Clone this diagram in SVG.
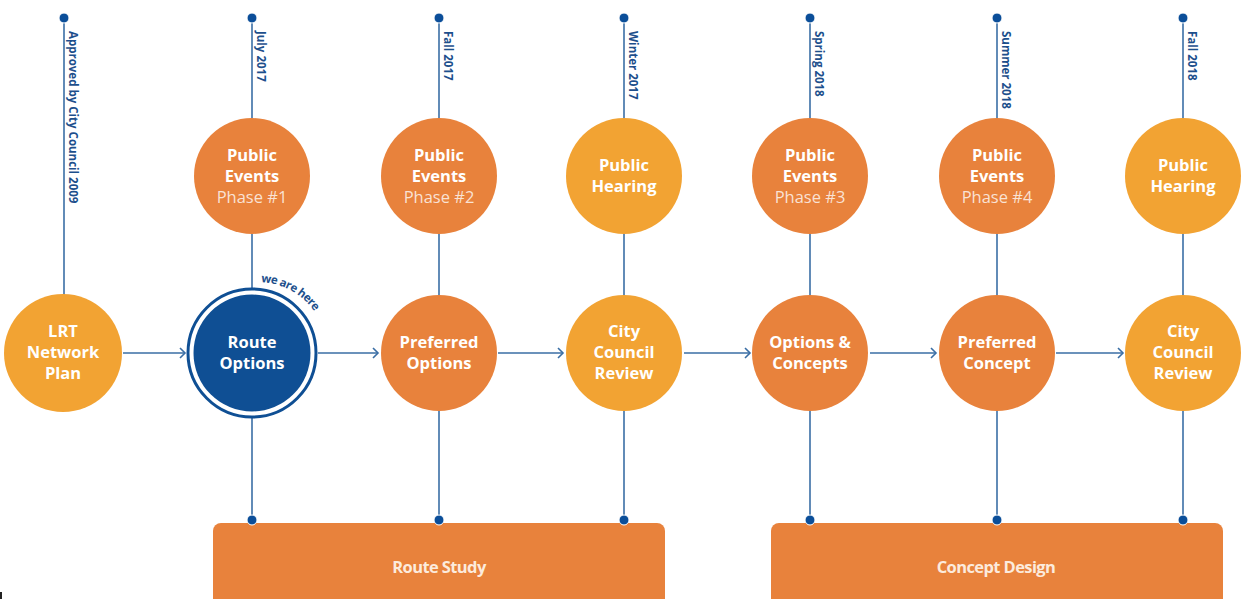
<svg xmlns="http://www.w3.org/2000/svg" width="1241" height="599" viewBox="0 0 1241 599">
<style>
.ln{stroke:#3A6EA5;stroke-width:1.6;fill:none}
.dot{fill:#0B4E99;stroke:#fff;stroke-width:1}
.dk{fill:#E8823C}
.am{fill:#F2A333}
.t{font-family:"Open Sans","Liberation Sans",sans-serif;font-weight:700;font-size:16.5px;fill:#fff;text-anchor:middle}
.ph{font-family:"Open Sans","Liberation Sans",sans-serif;font-weight:400;font-size:16.5px;fill:#fff;fill-opacity:0.78;text-anchor:middle}
.lab{font-family:"Open Sans","Liberation Sans",sans-serif;font-weight:700;font-size:11.5px;fill:#1D4F8C}
.bar{font-family:"Open Sans","Liberation Sans",sans-serif;font-weight:700;font-size:16.5px;fill:#FCEBDD;text-anchor:middle;letter-spacing:-0.6px}
</style>
<defs>
<marker id="ah" markerWidth="10" markerHeight="12" refX="8" refY="6" orient="auto" markerUnits="userSpaceOnUse">
<path d="M3,1 L8,6 L3,11" fill="none" stroke="#3A6EA5" stroke-width="1.6"/>
</marker>
<path id="arc" d="M 246 283 A 70 70 0 0 1 324 330"/>
</defs>
<rect width="1241" height="599" fill="#fff"/>

<g id="connectors">
<line class="ln" x1="64" y1="18" x2="64" y2="295"/>
<line class="ln" x1="252" y1="18" x2="252" y2="118"/>
<line class="ln" x1="252" y1="234" x2="252" y2="289"/>
<line class="ln" x1="252" y1="417" x2="252" y2="520"/>
<line class="ln" x1="439" y1="18" x2="439" y2="118"/>
<line class="ln" x1="439" y1="234" x2="439" y2="295"/>
<line class="ln" x1="439" y1="411" x2="439" y2="520"/>
<line class="ln" x1="624" y1="18" x2="624" y2="118"/>
<line class="ln" x1="624" y1="234" x2="624" y2="295"/>
<line class="ln" x1="624" y1="411" x2="624" y2="520"/>
<line class="ln" x1="810" y1="18" x2="810" y2="118"/>
<line class="ln" x1="810" y1="234" x2="810" y2="295"/>
<line class="ln" x1="810" y1="411" x2="810" y2="520"/>
<line class="ln" x1="997" y1="18" x2="997" y2="118"/>
<line class="ln" x1="997" y1="234" x2="997" y2="295"/>
<line class="ln" x1="997" y1="411" x2="997" y2="520"/>
<line class="ln" x1="1183" y1="18" x2="1183" y2="118"/>
<line class="ln" x1="1183" y1="234" x2="1183" y2="295"/>
<line class="ln" x1="1183" y1="411" x2="1183" y2="520"/>
<line class="ln" x1="123" y1="353" x2="185" y2="353" marker-end="url(#ah)"/>
<line class="ln" x1="318" y1="353" x2="378" y2="353" marker-end="url(#ah)"/>
<line class="ln" x1="498" y1="353" x2="563" y2="353" marker-end="url(#ah)"/>
<line class="ln" x1="684" y1="353" x2="750" y2="353" marker-end="url(#ah)"/>
<line class="ln" x1="870" y1="353" x2="936" y2="353" marker-end="url(#ah)"/>
<line class="ln" x1="1056" y1="353" x2="1123" y2="353" marker-end="url(#ah)"/>
</g>

<g id="top-dots">
<circle class="dot" cx="64" cy="18" r="5"/>
<circle class="dot" cx="252" cy="18" r="5"/>
<circle class="dot" cx="439" cy="18" r="5"/>
<circle class="dot" cx="624" cy="18" r="5"/>
<circle class="dot" cx="810" cy="18" r="5"/>
<circle class="dot" cx="997" cy="18" r="5"/>
<circle class="dot" cx="1183" cy="18" r="5"/>
</g>

<g id="date-labels">
<text class="lab" transform="translate(69,31) rotate(90)">Approved by City Council 2009</text>
<text class="lab" transform="translate(257,31) rotate(90)">July 2017</text>
<text class="lab" transform="translate(444,31) rotate(90)">Fall 2017</text>
<text class="lab" transform="translate(629,31) rotate(90)">Winter 2017</text>
<text class="lab" transform="translate(815,31) rotate(90)">Spring 2018</text>
<text class="lab" transform="translate(1002,31) rotate(90)">Summer 2018</text>
<text class="lab" transform="translate(1188,31) rotate(90)">Fall 2018</text>
</g>

<g id="pe1"><circle class="dk" cx="252" cy="176" r="58"/>
<text class="t" x="252" y="161">Public</text><text class="t" x="252" y="182">Events</text><text class="ph" x="252" y="203">Phase #1</text></g>
<g id="pe2"><circle class="dk" cx="439" cy="176" r="58"/>
<text class="t" x="439" y="161">Public</text><text class="t" x="439" y="182">Events</text><text class="ph" x="439" y="203">Phase #2</text></g>
<g id="ph1"><circle class="am" cx="624" cy="176" r="58"/>
<text class="t" x="624" y="171">Public</text><text class="t" x="624" y="192">Hearing</text></g>
<g id="pe3"><circle class="dk" cx="810" cy="176" r="58"/>
<text class="t" x="810" y="161">Public</text><text class="t" x="810" y="182">Events</text><text class="ph" x="810" y="203">Phase #3</text></g>
<g id="pe4"><circle class="dk" cx="997" cy="176" r="58"/>
<text class="t" x="997" y="161">Public</text><text class="t" x="997" y="182">Events</text><text class="ph" x="997" y="203">Phase #4</text></g>
<g id="ph2"><circle class="am" cx="1183" cy="176" r="58"/>
<text class="t" x="1183" y="171">Public</text><text class="t" x="1183" y="192">Hearing</text></g>

<g id="lrt"><circle class="am" cx="63" cy="353" r="59"/>
<text class="t" x="63" y="337">LRT</text><text class="t" x="63" y="358">Network</text><text class="t" x="63" y="379">Plan</text></g>
<g id="route-options">
<circle cx="252" cy="353" r="64" fill="none" stroke="#0F4F94" stroke-width="3"/>
<circle cx="252" cy="353" r="58.5" fill="#0F4F94"/>
<text class="t" x="252" y="348">Route</text><text class="t" x="252" y="369">Options</text>
<text font-family="Open Sans, Liberation Sans, sans-serif" font-weight="700" font-size="11.5px" fill="#1D4F8C" letter-spacing="-0.5"><textPath href="#arc" startOffset="15">we are here</textPath></text>
</g>
<g id="preferred-options"><circle class="dk" cx="439" cy="353" r="58"/>
<text class="t" x="439" y="348">Preferred</text><text class="t" x="439" y="369">Options</text></g>
<g id="ccr1"><circle class="am" cx="624" cy="353" r="58"/>
<text class="t" x="624" y="337">City</text><text class="t" x="624" y="358">Council</text><text class="t" x="624" y="379">Review</text></g>
<g id="options-concepts"><circle class="dk" cx="810" cy="353" r="58"/>
<text class="t" x="810" y="348">Options &amp;</text><text class="t" x="810" y="369">Concepts</text></g>
<g id="preferred-concept"><circle class="dk" cx="997" cy="353" r="58"/>
<text class="t" x="997" y="348">Preferred</text><text class="t" x="997" y="369">Concept</text></g>
<g id="ccr2"><circle class="am" cx="1183" cy="353" r="58"/>
<text class="t" x="1183" y="337">City</text><text class="t" x="1183" y="358">Council</text><text class="t" x="1183" y="379">Review</text></g>

<g id="route-study"><rect x="213" y="523" width="452" height="90" rx="8" fill="#E8823C"/>
<text class="bar" x="439" y="573">Route Study</text></g>
<g id="concept-design"><rect x="771" y="523" width="452" height="90" rx="8" fill="#E8823C"/>
<text class="bar" x="996" y="573">Concept Design</text></g>

<g id="bottom-dots">
<circle class="dot" cx="252" cy="520" r="5"/>
<circle class="dot" cx="439" cy="520" r="5"/>
<circle class="dot" cx="624" cy="520" r="5"/>
<circle class="dot" cx="810" cy="520" r="5"/>
<circle class="dot" cx="997" cy="520" r="5"/>
<circle class="dot" cx="1183" cy="520" r="5"/>
</g>
<rect x="0" y="592" width="2" height="7" fill="#222"/>
</svg>
